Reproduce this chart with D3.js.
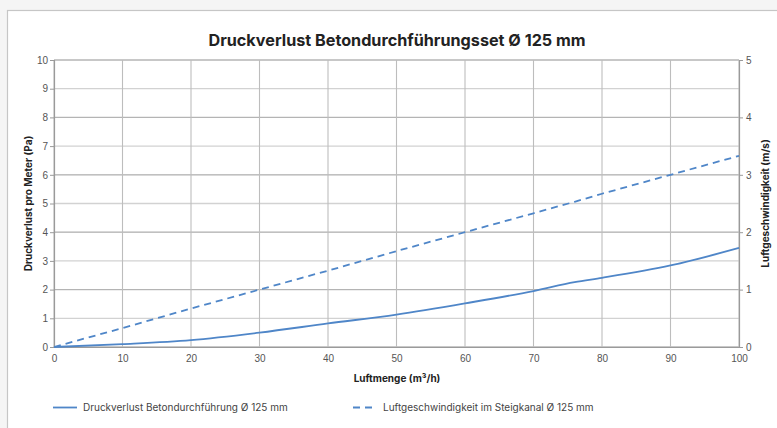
<!DOCTYPE html>
<html>
<head>
<meta charset="utf-8">
<script src="https://cdn.jsdelivr.net/npm/d3@7"></script>
<style>
  html, body { margin: 0; padding: 0; background: #f5f5f5; }
  svg { display: block; }
</style>
</head>
<body>
<svg id="chart" width="777" height="428"></svg>
<script>
// Airflow (m³/h) sample points
const airflow = [0, 10, 20, 30, 40, 50, 60, 70, 76, 80, 90, 100];
// Pressure loss per metre (Pa), left axis
const pressureLoss = [0, 0.1, 0.24, 0.5, 0.82, 1.13, 1.52, 1.95, 2.26, 2.41, 2.84, 3.45];
// Air velocity in the riser duct (m/s), right axis
const velocity = [0, 0.33, 0.67, 1.0, 1.33, 1.67, 2.0, 2.33, 2.53, 2.67, 3.0, 3.33];

const xTicks = [0, 10, 20, 30, 40, 50, 60, 70, 80, 90, 100];
const leftTicks = [0, 1, 2, 3, 4, 5, 6, 7, 8, 9, 10];
const rightTicks = [0, 1, 2, 3, 4, 5];

const title = "Druckverlust Betondurchführungsset Ø 125 mm";
const xTitle = "Luftmenge (m³/h)";
const leftTitle = "Druckverlust pro Meter (Pa)";
const rightTitle = "Luftgeschwindigkeit (m/s)";
const seriesNames = ["Druckverlust Betondurchführung Ø 125 mm", "Luftgeschwindigkeit im Steigkanal Ø 125 mm"];

const lineColor = "#4f86c8";
const svg = d3.select("#chart");

// card
svg.append("rect")
  .attr("x", 7.5).attr("y", 10.5)
  .attr("width", 800).attr("height", 440)
  .attr("fill", "#ffffff")
  .attr("stroke", "#c6c6c6").attr("stroke-width", 1.2);

const m = { left: 54, right: 739, top: 60, bottom: 347 };
const x = d3.scaleLinear().domain([0, 100]).range([m.left, m.right]);
const yL = d3.scaleLinear().domain([0, 10]).range([m.bottom, m.top]);
const yR = d3.scaleLinear().domain([0, 5]).range([m.bottom, m.top]);

// gridlines
const grid = svg.append("g");
grid.selectAll(".gl").data(leftTicks).join("line")
  .attr("x1", m.left).attr("x2", m.right)
  .attr("y1", d => yL(d)).attr("y2", d => yL(d))
  .attr("stroke", "#d2d2d2").attr("stroke-width", 1.3);
grid.selectAll(".gr").data(rightTicks).join("line")
  .attr("x1", m.left).attr("x2", m.right)
  .attr("y1", d => yR(d)).attr("y2", d => yR(d))
  .attr("stroke", "#a8a8a8").attr("stroke-width", 0.8);
grid.selectAll(".gx").data(xTicks).join("line")
  .attr("x1", d => x(d)).attr("x2", d => x(d))
  .attr("y1", m.top).attr("y2", m.bottom)
  .attr("stroke", "#bdbdbd").attr("stroke-width", 1.1);

const tickFont = "'Liberation Sans', Arial, sans-serif";
const intFmt = d3.format("d");

// axes
const axX = svg.append("g").attr("transform", `translate(0,${m.bottom})`)
  .call(d3.axisBottom(x).tickValues(xTicks).tickFormat(intFmt).tickSize(0).tickPadding(8));
const axL = svg.append("g").attr("transform", `translate(${m.left},0)`)
  .call(d3.axisLeft(yL).tickValues(leftTicks).tickFormat(intFmt).tickSize(4).tickPadding(2));
const axR = svg.append("g").attr("transform", `translate(${m.right},0)`)
  .call(d3.axisRight(yR).tickValues(rightTicks).tickFormat(intFmt).tickSize(4).tickPadding(3));
[axX, axL, axR].forEach(a => {
  a.select(".domain").attr("stroke", "#9a9a9a").attr("stroke-width", 1.2);
  a.selectAll(".tick line").attr("stroke", "#9a9a9a");
  a.selectAll("text").attr("fill", "#555").attr("font-size", 10).attr("font-family", tickFont);
});

// series
const pts = airflow.map((a, i) => ({ a, p: pressureLoss[i], v: velocity[i] }));
svg.append("path").datum(pts)
  .attr("fill", "none").attr("stroke", lineColor).attr("stroke-width", 1.8)
  .attr("d", d3.line().x(d => x(d.a)).y(d => yL(d.p)).curve(d3.curveMonotoneX));
svg.append("path").datum(pts)
  .attr("fill", "none").attr("stroke", lineColor).attr("stroke-width", 1.8)
  .attr("stroke-dasharray", "7,5")
  .attr("d", d3.line().x(d => x(d.a)).y(d => yR(d.v)));

const uiFont = "Inter, 'Noto Sans', sans-serif";

// titles
svg.append("text").attr("x", 397).attr("y", 46).attr("text-anchor", "middle")
  .attr("font-family", uiFont).attr("font-weight", 700).attr("font-size", 16.2)
  .attr("fill", "#222").text(title);
svg.append("text").attr("x", 397).attr("y", 382).attr("text-anchor", "middle")
  .attr("font-family", uiFont).attr("font-weight", 700).attr("font-size", 10)
  .attr("fill", "#222").text(xTitle);
svg.append("text").attr("transform", `translate(32,${(m.top + m.bottom) / 2}) rotate(-90)`)
  .attr("text-anchor", "middle")
  .attr("font-family", uiFont).attr("font-weight", 700).attr("font-size", 10)
  .attr("fill", "#222").text(leftTitle);
svg.append("text").attr("transform", `translate(769,${(m.top + m.bottom) / 2}) rotate(-90)`)
  .attr("text-anchor", "middle")
  .attr("font-family", uiFont).attr("font-weight", 700).attr("font-size", 10)
  .attr("fill", "#222").text(rightTitle);

// legend
const legend = [
  { name: seriesNames[0], x: 53, dash: null },
  { name: seriesNames[1], x: 353, dash: "7,5" }
];
const lg = svg.selectAll(".lg").data(legend).join("g")
  .attr("transform", d => `translate(${d.x},411)`);
lg.append("line").attr("x1", 0).attr("x2", 24).attr("y1", -3.5).attr("y2", -3.5)
  .attr("stroke", lineColor).attr("stroke-width", 1.8)
  .attr("stroke-dasharray", d => d.dash);
lg.append("text").attr("x", 30).attr("y", 0)
  .attr("font-family", uiFont).attr("font-size", 10).attr("fill", "#444")
  .text(d => d.name);
</script>
</body>
</html>
